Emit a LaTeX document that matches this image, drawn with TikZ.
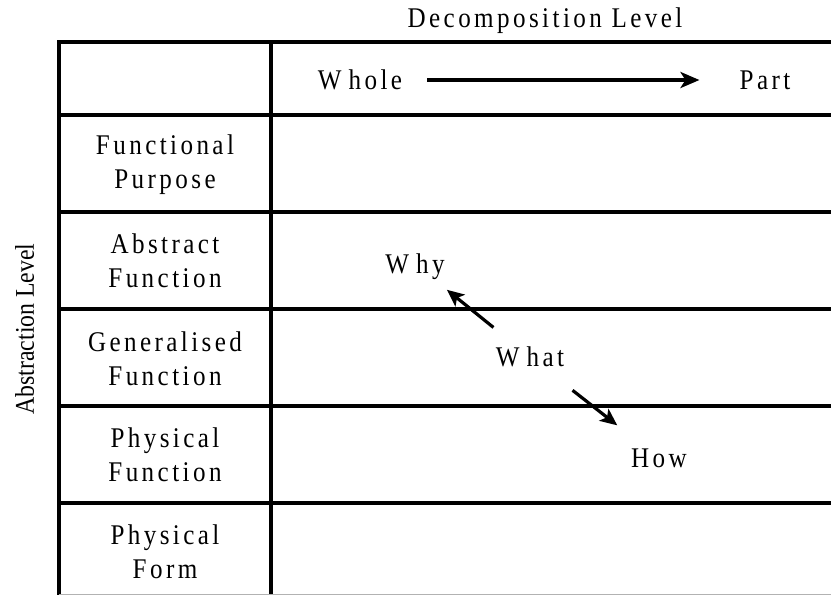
\documentclass[tikz,border=0pt]{standalone}
\usepackage{fontspec}
\usetikzlibrary{arrows.meta}
\setmainfont{Liberation Serif}
\newfontfamily\spacedserif{Liberation Serif}[LetterSpace=12, FakeStretch=0.88]
\newfontfamily\narrowserif{Liberation Serif}[FakeStretch=0.88]
\newcommand\cellfont{\spacedserif\fontsize{28.5pt}{34pt}\selectfont}
\newcommand\axisfont{\narrowserif\fontsize{27pt}{30pt}\selectfont}
\begin{document}
\begin{tikzpicture}[x=1pt,y=-1pt,
  gridline/.style={line width=3.3pt, line cap=rect},
  word/.style={inner sep=0pt, font=\cellfont, text height=18pt, text depth=0pt},
  rowlbl/.style={inner sep=0pt, font=\cellfont, align=center},
  arr/.style={line width=3.6pt, -{Stealth[length=19pt,width=16pt,inset=5pt]}},
  darr/.style={line width=3.2pt, -{Stealth[length=17pt,width=15pt,inset=4pt]}}]
\useasboundingbox (0,0) rectangle (831,595);

% table rules
\draw[gridline] (59,42) -- (840,42);
\foreach \y in {115,212,309,406,503}
  \draw[gridline] (59,\y) -- (840,\y);
\draw[gridline] (59,42) -- (59,600);
\draw[gridline] (271,42) -- (271,600);
\draw[gray!60, line width=1pt] (59,594.5) -- (831,594.5);

% axis titles
\node[word] (decomp) at (545,18) {Decomposition Level};
\node[inner sep=0pt, font=\axisfont, rotate=90, anchor=base] (abstr) at (34,329) {Abstraction Level};

% header row
\node[word] (whole) at (360,80) {W\kern7pt hole};
\node[word] (part) at (765,80) {Part};
\draw[arr, shorten <=25pt, shorten >=40pt] (whole.east) -- (part.west);

% abstraction levels
\node[rowlbl] (fp) at (165,165) {Functional\\Purpose};
\node[rowlbl] (af) at (165,261) {Abstract\\Function};
\node[rowlbl] (gf) at (165,359) {Generalised\\Function};
\node[rowlbl] (pf) at (165,455) {Physical\\Function};
\node[rowlbl] (pform) at (165,552) {Physical\\Form};

% means-ends questions
\node[word] (why) at (415,264) {W\kern7pt hy};
\node[word] (what) at (530,357) {W\kern7pt hat};
\node[word] (how) at (659,458) {How};
\draw[darr, shorten <=47pt, shorten >=41pt] (what.center) -- (why.center);
\draw[darr, shorten <=54pt, shorten >=53pt] (what.center) -- (how.center);
\end{tikzpicture}
\end{document}
